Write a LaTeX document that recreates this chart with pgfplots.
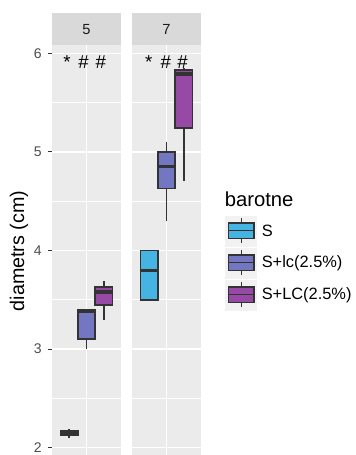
\documentclass[border=0pt]{standalone}
\usepackage{fontspec}
\setmainfont{Liberation Sans}
\usepackage{pgfplots}
\pgfplotsset{compat=1.18}
\usepgfplotslibrary{statistics}
\definecolor{panelbg}{HTML}{EBEBEB}
\definecolor{stripbg}{HTML}{D9D9D9}
\definecolor{keybg}{HTML}{F2F2F2}
\definecolor{dk}{HTML}{333333}
\definecolor{ticklab}{HTML}{4D4D4D}
\definecolor{striptxt}{HTML}{1A1A1A}
\definecolor{cS}{HTML}{45B4E2}
\definecolor{cLc}{HTML}{7376C0}
\definecolor{cLC}{HTML}{9649A5}
\pgfplotsset{
  panel/.style={
    scale only axis, width=51.75pt, height=307.5pt,
    xmin=0.4, xmax=1.6, ymin=1.926, ymax=6.084,
    axis background/.style={fill=panelbg},
    axis line style={draw=none},
    xtick={1}, xticklabels={}, major x tick style={draw=none},
    ytick={2,3,4,5,6}, minor ytick={2.5,3.5,4.5,5.5},
    grid=both,
    major grid style={white, line width=1.1pt},
    minor grid style={white, line width=0.55pt},
    minor y tick style={draw=none},
    ytick pos=left, tick align=outside, major tick length=2.75pt,
    major y tick style={draw=dk, line width=0.8pt},
    /pgf/number format/assume math mode=true,
    yticklabel style={font=\fontsize{10.5pt}{12pt}\selectfont, text=ticklab, anchor=east, inner sep=0pt, xshift=-4.75pt},
    boxplot/draw direction=y,
    boxplot/box extend=0.3,
    boxplot/whisker extend=0,
    boxplot/every median/.style={line width=2.4pt},
  },
  bx/.style={draw=dk, line width=1.2pt, fill=#1},
}
\tikzset{ann/.style={font=\fontsize{14pt}{16pt}\selectfont, anchor=base, text=black}}
\begin{document}
\begin{tikzpicture}
\path[use as bounding box] (0pt,0pt) rectangle (267pt,341.25pt);
% panel 1 (5)
\begin{axis}[panel, at={(39pt,0pt)}, anchor=south west]
\addplot[bx=cS, boxplot prepared={draw position=0.7, lower whisker=2.10, lower quartile=2.125, median=2.145, upper quartile=2.17, upper whisker=2.19}] coordinates {};
\addplot[bx=cLc, boxplot prepared={draw position=1.0, lower whisker=3.00, lower quartile=3.10, median=3.38, upper quartile=3.40, upper whisker=3.40}] coordinates {};
\addplot[bx=cLC, boxplot prepared={draw position=1.3, lower whisker=3.30, lower quartile=3.45, median=3.58, upper quartile=3.63, upper whisker=3.69}] coordinates {};
\node[ann] at (axis cs:0.66,5.845) {*};
\node[ann] at (axis cs:0.95,5.845) {\#};
\node[ann] at (axis cs:1.25,5.845) {\#};
\end{axis}
% panel 2 (7)
\begin{axis}[panel, at={(99pt,0pt)}, anchor=south west, yticklabels={}, major y tick style={draw=none}]
\addplot[bx=cS, boxplot prepared={draw position=0.7, lower whisker=3.50, lower quartile=3.50, median=3.80, upper quartile=4.00, upper whisker=4.00}] coordinates {};
\addplot[bx=cLc, boxplot prepared={draw position=1.0, lower whisker=4.30, lower quartile=4.63, median=4.85, upper quartile=5.00, upper whisker=5.10}] coordinates {};
\addplot[bx=cLC, boxplot prepared={draw position=1.3, lower whisker=4.70, lower quartile=5.24, median=5.79, upper quartile=5.83, upper whisker=5.85}] coordinates {};
\node[ann] at (axis cs:0.69,5.845) {*};
\node[ann] at (axis cs:0.99,5.845) {\#};
\node[ann] at (axis cs:1.28,5.845) {\#};
\end{axis}
\begin{scope}[x=0.75pt, y=0.75pt]
% strips
\fill[stripbg] (52,455-13.3) rectangle (121,455-45);
\fill[stripbg] (132,455-13.3) rectangle (201,455-45);
\node[font=\fontsize{11pt}{13pt}\selectfont, text=striptxt] at (86.5,455-29.5) {5};
\node[font=\fontsize{11pt}{13pt}\selectfont, text=striptxt] at (166.5,455-29.5) {7};
% y label
\node[font=\fontsize{14.8pt}{17pt}\selectfont, rotate=90] at (19,455-251) {diametrs (cm)};
% legend
\node[font=\fontsize{15.2pt}{17pt}\selectfont, anchor=base west, inner sep=0pt] at (224.5,455-206.7) {barotne};
\foreach \T/\c/\lab in {215/cS/{S}, 247/cLc/{S+lc(2.5\%)}, 279/cLC/{S+LC(2.5\%)}}{
  \fill[keybg] (225.5,455-\T-0.5) rectangle (257,455-\T-31.5);
  \draw[dk, line width=1.1pt] (241.25,455-\T-3.2) -- (241.25,455-\T-28);
  \draw[dk, line width=1.1pt, fill=\c] (228.7,455-\T-8) rectangle (253.8,455-\T-23.5);
  \draw[dk, line width=1.1pt] (228.7,455-\T-15.75) -- (253.8,455-\T-15.75);
  \node[font=\fontsize{12.3pt}{14pt}\selectfont, anchor=west, inner sep=0pt] at (261.5,455-\T-16) {\lab};
}
\end{scope}
\end{tikzpicture}
\end{document}
